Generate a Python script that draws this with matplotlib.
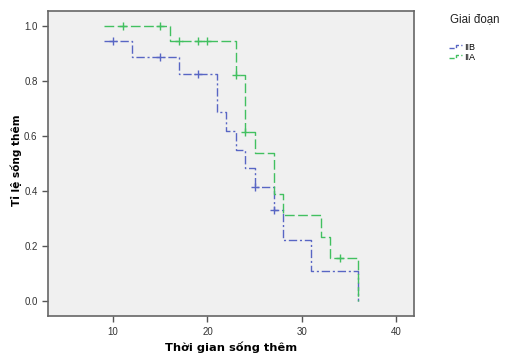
import matplotlib
matplotlib.use("Agg")
import matplotlib.pyplot as plt
from matplotlib.legend_handler import HandlerBase
from matplotlib.lines import Line2D

# Giai đoạn IIB
iib_time = [9, 12, 17, 21, 22, 23, 24, 25, 27, 28, 31, 36]
iib_surv = [0.945, 0.889, 0.827, 0.686, 0.619, 0.550, 0.482, 0.413, 0.330, 0.220, 0.110, 0.0]
iib_cens_time = [10, 15, 19, 25, 27]
iib_cens_surv = [0.945, 0.889, 0.827, 0.413, 0.330]

# Giai đoạn IIA
iia_time = [9, 16, 23, 24, 25, 27, 28, 32, 33, 36]
iia_surv = [1.0, 0.947, 0.821, 0.616, 0.539, 0.388, 0.311, 0.231, 0.154, 0.0]
iia_cens_time = [11, 15, 17, 19, 20, 23, 24, 34]
iia_cens_surv = [1.0, 1.0, 0.947, 0.947, 0.947, 0.821, 0.616, 0.154]

x_ticks = [10, 20, 30, 40]
y_ticks = [0.0, 0.2, 0.4, 0.6, 0.8, 1.0]

BLUE = "#5866c4"
GREEN = "#42c060"


class StepHandler(HandlerBase):
    # little step shape like the SPSS legend
    def create_artists(self, legend, orig, xd, yd, w, h, fontsize, trans):
        xs = [xd, xd + w * 0.55, xd + w * 0.55, xd + w]
        ys = [yd + h * 0.2, yd + h * 0.2, yd + h * 0.8, yd + h * 0.8]
        ln = Line2D(xs, ys, color=orig.get_color(), lw=1.0,
                    linestyle=orig.get_linestyle(), transform=trans)
        return [ln]


fig = plt.figure(figsize=(5.05, 3.54), dpi=100)
ax = fig.add_axes([0.095, 0.107, 0.725, 0.862])
ax.set_facecolor("#f0f0f0")

l1, = ax.step(iib_time, iib_surv, where="post", color=BLUE, lw=1.0,
              linestyle=(0, (6, 2, 1.5, 2)))
ax.plot(iib_cens_time, iib_cens_surv, "+", color=BLUE, ms=6, mew=1.0)
l2, = ax.step(iia_time, iia_surv, where="post", color=GREEN, lw=1.0,
              linestyle=(0, (7, 2.5)))
ax.plot(iia_cens_time, iia_cens_surv, "+", color=GREEN, ms=6, mew=1.0)

ax.set_xlim(3.1, 41.9)
ax.set_ylim(-0.056, 1.055)
ax.set_xticks(x_ticks)
ax.set_yticks(y_ticks)
ax.set_yticklabels([f"{v:.1f}" for v in y_ticks])
ax.tick_params(direction="out", length=4, width=1, color="#555555",
               labelsize=7, labelcolor="#333333")
for lab in ax.get_xticklabels() + ax.get_yticklabels():
    lab.set_family("Liberation Sans")
for sp in ax.spines.values():
    sp.set_color("#666666")
    sp.set_linewidth(1.2)

ax.set_xlabel("Thời gian sống thêm", fontsize=8.2, fontweight="bold")
ax.xaxis.set_label_coords(0.5, -0.083)
ax.set_ylabel("Tỉ lệ sống thêm", fontsize=7.6, fontweight="bold")
ax.yaxis.set_label_coords(-0.072, 0.51)

fig.text(0.891, 0.946, "Giai đoạn", family="Liberation Sans", fontsize=8.3,
         va="center", ha="left", color="#222222")
leg = fig.legend([l1, l2], ["IIB", "IIA"],
                 loc="upper left", bbox_to_anchor=(0.878, 0.895),
                 frameon=False, handler_map={Line2D: StepHandler()},
                 handlelength=1.5, handletextpad=0.25, labelspacing=0.12,
                 borderpad=0.1, prop={"family": "Liberation Sans", "size": 6.5})

fig.savefig("out.png", dpi=100)
